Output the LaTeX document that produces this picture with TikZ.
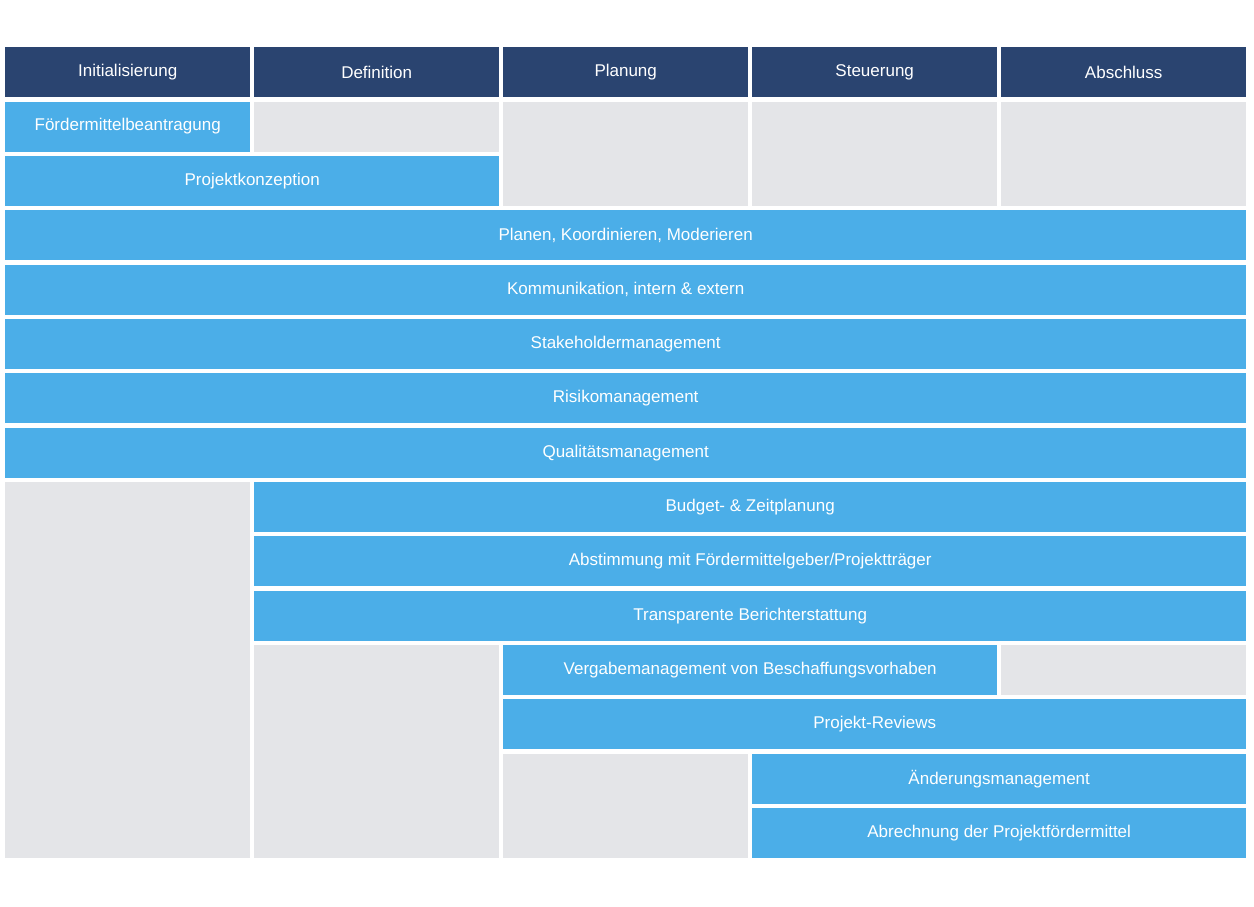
\documentclass[tikz,border=0pt]{standalone}
\usepackage{fontspec}
\setmainfont{Liberation Sans}
\definecolor{navy}{HTML}{2A4470}
\definecolor{skyblue}{HTML}{4BAEE8}
\definecolor{lightgray}{HTML}{E4E5E8}
% cell: name, column, row, columns spanned, rows spanned, style, text
\newcommand\blk[7]{%
  \pgfmathsetmacro\bx{5+249*(#2-1)}%
  \pgfmathsetmacro\by{47+54.35*#3}%
  \pgfmathsetmacro\bw{249*#4-4}%
  \pgfmathsetmacro\bh{54.35*#5-4.35}%
  \node[#6, minimum width=\bw pt, minimum height=\bh pt] (#1) at (\bx,\by) {#7};}
\begin{document}
\begin{tikzpicture}[
    x=1pt, y=-1pt,
    every node/.style={anchor=north west, inner sep=0pt, font=\fontsize{17}{20}\selectfont},
    phase/.style={rectangle, fill=navy, text=white},
    task/.style={rectangle, fill=skyblue, text=white},
    empty/.style={rectangle, fill=lightgray}
]
    \useasboundingbox (0,0) rectangle (1254,906);

    % Phases
    \blk{init}{1}{0}{1}{1}{phase}{Initialisierung}
    \blk{defi}{2}{0}{1}{1}{phase}{Definition}
    \blk{plan}{3}{0}{1}{1}{phase}{Planung}
    \blk{steu}{4}{0}{1}{1}{phase}{Steuerung}
    \blk{absc}{5}{0}{1}{1}{phase}{Abschluss}

    % Tasks
    \blk{foerder}{1}{1}{1}{1}{task}{Fördermittelbeantragung}
    \blk{konz}{1}{2}{2}{1}{task}{Projektkonzeption}
    \blk{koord}{1}{3}{5}{1}{task}{Planen, Koordinieren, Moderieren}
    \blk{komm}{1}{4}{5}{1}{task}{Kommunikation, intern \& extern}
    \blk{stake}{1}{5}{5}{1}{task}{Stakeholdermanagement}
    \blk{risk}{1}{6}{5}{1}{task}{Risikomanagement}
    \blk{qual}{1}{7}{5}{1}{task}{Qualitätsmanagement}
    \blk{budget}{2}{8}{4}{1}{task}{Budget- \& Zeitplanung}
    \blk{abst}{2}{9}{4}{1}{task}{Abstimmung mit Fördermittelgeber/Projektträger}
    \blk{bericht}{2}{10}{4}{1}{task}{Transparente Berichterstattung}
    \blk{vergabe}{3}{11}{2}{1}{task}{Vergabemanagement von Beschaffungsvorhaben}
    \blk{review}{3}{12}{3}{1}{task}{Projekt-Reviews}
    \blk{aender}{4}{13}{2}{1}{task}{Änderungsmanagement}
    \blk{abrech}{4}{14}{2}{1}{task}{Abrechnung der Projektfördermittel}

    % Empty cells
    \blk{e1}{2}{1}{1}{1}{empty}{}
    \blk{e2}{3}{1}{1}{2}{empty}{}
    \blk{e3}{4}{1}{1}{2}{empty}{}
    \blk{e4}{5}{1}{1}{2}{empty}{}
    \blk{e5}{1}{8}{1}{7}{empty}{}
    \blk{e6}{2}{11}{1}{4}{empty}{}
    \blk{e7}{5}{11}{1}{1}{empty}{}
    \blk{e8}{3}{13}{1}{2}{empty}{}
\end{tikzpicture}
\end{document}
